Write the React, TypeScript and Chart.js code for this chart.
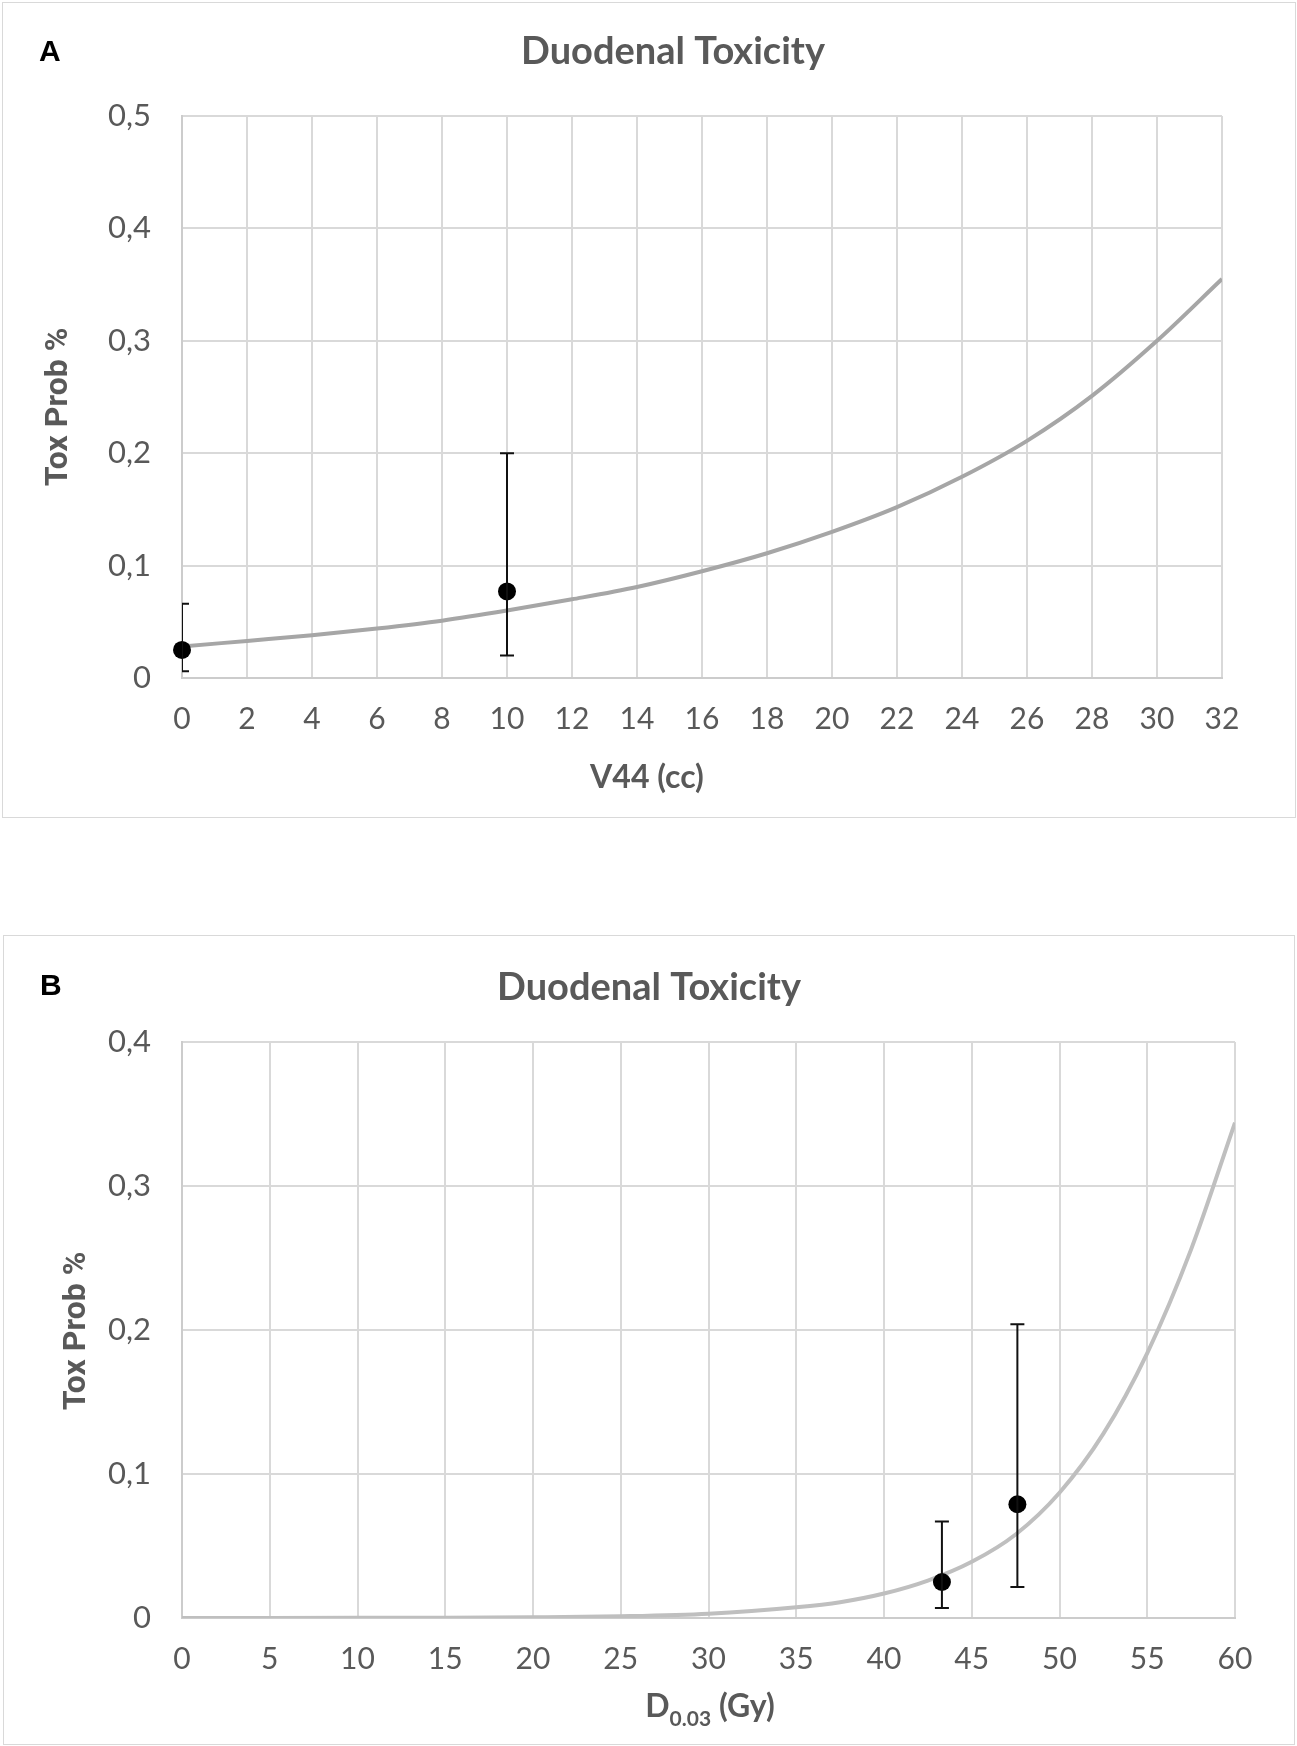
import React, { useEffect, useRef } from "react";
import { Chart, registerables } from "chart.js";

Chart.register(...registerables);

// panel A: V44 (cc)
const v44Curve = [0, 2, 4, 6, 8, 10, 12, 14, 16, 18, 20, 22, 24, 26, 28, 30, 32];
const v44CurveProb = [0.028, 0.033, 0.038, 0.044, 0.051, 0.06, 0.07, 0.081, 0.095, 0.111, 0.13, 0.152, 0.179, 0.211, 0.251, 0.3, 0.355];
const v44Obs = [0, 10];
const v44ObsProb = [0.025, 0.077];
const v44ObsLow = [0.006, 0.02];
const v44ObsHigh = [0.066, 0.2];
const v44YTicks = [0, 0.1, 0.2, 0.3, 0.4, 0.5];

// panel B: D0.03 (Gy)
const doseCurve = [0, 5, 10, 15, 20, 25, 30, 35, 37.5, 40, 42.5, 45, 47.5, 50, 52.5, 55, 57.5, 60];
const doseCurveProb = [0.00002, 0.00004, 0.0001, 0.0002, 0.0005, 0.0012, 0.003, 0.0075, 0.011, 0.017, 0.026, 0.039, 0.058, 0.087, 0.128, 0.184, 0.256, 0.344];
const doseObs = [43.3, 47.6];
const doseObsProb = [0.025, 0.079];
const doseObsLow = [0.007, 0.0215];
const doseObsHigh = [0.067, 0.204];
const doseYTicks = [0, 0.1, 0.2, 0.3, 0.4];

const GREY_TEXT = "#595959";
const GRID = "#d9d9d9";

const fmtProb = (v: number) => (v === 0 ? "0" : Number(v).toFixed(1).replace(".", ","));

type PanelProps = {
  box: { left: number; top: number; width: number; height: number };
  canvasW: number;
  canvasH: number;
  plot: { yWidth: number; xHeight: number; top: number; right: number };
  letter: string;
  letterPos: [number, number];
  title: string;
  titlePos: [number, number];
  xTitle: string;
  xSub?: string;
  xTitleRest?: string;
  xTitlePos: [number, number];
  yTitlePos: [number, number];
  xMax: number;
  xStep: number;
  yMax: number;
  yTicks: number[];
  curveX: number[];
  curveY: number[];
  obsX: number[];
  obsY: number[];
  obsLow: number[];
  obsHigh: number[];
  curveColor: string;
};

const ToxPanel = (p: PanelProps) => {
  const canvasRef = useRef<HTMLCanvasElement>(null);

  useEffect(() => {
    const ctx = canvasRef.current?.getContext("2d");
    if (!ctx) return;

    const errorBars = {
      id: "errorBars",
      afterDatasetsDraw(chart: any) {
        const { x, y } = chart.scales;
        const area = chart.chartArea;
        const c = chart.ctx;
        c.save();
        c.beginPath();
        c.rect(area.left, area.top - 10, area.right - area.left, area.bottom - area.top + 20);
        c.clip();
        c.strokeStyle = "#111";
        c.lineWidth = 2;
        p.obsX.forEach((vx, i) => {
          const px = x.getPixelForValue(vx);
          const top = y.getPixelForValue(p.obsHigh[i]);
          const bot = y.getPixelForValue(p.obsLow[i]);
          c.beginPath();
          c.moveTo(px, top);
          c.lineTo(px, bot);
          c.moveTo(px - 7, top);
          c.lineTo(px + 7, top);
          c.moveTo(px - 7, bot);
          c.lineTo(px + 7, bot);
          c.stroke();
        });
        c.restore();
      },
    };

    const labels = {
      id: "panelLabels",
      afterDraw(chart: any) {
        const c = chart.ctx;
        c.save();
        c.textBaseline = "alphabetic";
        // panel letter
        c.fillStyle = "#000";
        c.font = "bold 30px 'Liberation Sans', Arial, sans-serif";
        c.textAlign = "left";
        c.fillText(p.letter, p.letterPos[0], p.letterPos[1]);
        // title
        c.fillStyle = GREY_TEXT;
        c.font = "bold 38px Lato, sans-serif";
        c.textAlign = "center";
        c.fillText(p.title, p.titlePos[0], p.titlePos[1]);
        // x title
        c.font = "bold 32px Lato, sans-serif";
        if (p.xSub) {
          const main = p.xTitle;
          const rest = p.xTitleRest || "";
          const w1 = c.measureText(main).width;
          const w3 = c.measureText(rest).width;
          c.font = "bold 21px Lato, sans-serif";
          const w2 = c.measureText(p.xSub).width;
          const start = p.xTitlePos[0] - (w1 + w2 + w3) / 2;
          c.textAlign = "left";
          c.font = "bold 32px Lato, sans-serif";
          c.fillText(main, start, p.xTitlePos[1]);
          c.font = "bold 21px Lato, sans-serif";
          c.fillText(p.xSub, start + w1, p.xTitlePos[1] + 9);
          c.font = "bold 32px Lato, sans-serif";
          c.fillText(rest, start + w1 + w2, p.xTitlePos[1]);
        } else {
          c.fillText(p.xTitle, p.xTitlePos[0], p.xTitlePos[1]);
        }
        // y title
        c.translate(p.yTitlePos[0], p.yTitlePos[1]);
        c.rotate(-Math.PI / 2);
        c.textAlign = "center";
        c.font = "bold 32px Roboto, sans-serif";
        c.fillText("Tox Prob %", 0, 0);
        c.restore();
      },
    };

    const chart = new Chart(ctx, {
      type: "scatter",
      data: {
        datasets: [
          {
            label: "observed",
            data: p.obsX.map((x, i) => ({ x, y: p.obsY[i] })),
            backgroundColor: "#000",
            borderWidth: 0,
            pointRadius: 9,
            clip: false,
            order: 0,
          } as any,
          {
            label: "model",
            data: p.curveX.map((x, i) => ({ x, y: p.curveY[i] })),
            showLine: true,
            borderColor: p.curveColor,
            borderWidth: 4,
            pointRadius: 0,
            cubicInterpolationMode: "monotone",
            order: 1,
          } as any,
        ],
      },
      options: {
        animation: false,
        responsive: false,
        events: [],
        layout: { padding: { left: 0, top: p.plot.top, right: p.plot.right, bottom: 0 } },
        plugins: { legend: { display: false }, tooltip: { enabled: false }, title: { display: false } },
        scales: {
          x: {
            type: "linear",
            min: 0,
            max: p.xMax,
            afterFit: (s: any) => {
              s.height = p.plot.xHeight;
            },
            grid: { color: GRID, lineWidth: 2, drawTicks: false },
            border: { color: "#cccccc", width: 2 },
            ticks: {
              stepSize: p.xStep,
              padding: 23,
              color: GREY_TEXT,
              font: { family: "Lato", size: 30 },
            },
          },
          y: {
            type: "linear",
            min: 0,
            max: p.yMax,
            afterFit: (s: any) => {
              s.width = p.plot.yWidth;
            },
            afterBuildTicks: (s: any) => {
              s.ticks = p.yTicks.map((v) => ({ value: v }));
            },
            grid: { color: GRID, lineWidth: 2, drawTicks: false },
            border: { color: "#cccccc", width: 2 },
            ticks: {
              padding: 31,
              color: GREY_TEXT,
              font: { family: "Lato", size: 31 },
              callback: (v: any) => fmtProb(Number(v)),
            },
          },
        },
      },
      plugins: [errorBars, labels],
    } as any);

    return () => {
      chart.destroy();
    };
  }, []);

  return (
    <div
      style={{
        position: "absolute",
        left: p.box.left,
        top: p.box.top,
        width: p.box.width,
        height: p.box.height,
        border: "1px solid #d9d9d9",
        boxSizing: "border-box",
        background: "#fff",
      }}
    >
      <canvas
        ref={canvasRef}
        width={p.canvasW}
        height={p.canvasH}
        style={{ position: "absolute", left: 0, top: 0 }}
      />
    </div>
  );
};

export default function App() {
  return (
    <div style={{ position: "absolute", left: 0, top: 0, width: 1297, height: 1746, background: "#fff" }}>
      <ToxPanel
        box={{ left: 2, top: 2, width: 1294, height: 816 }}
        canvasW={1292}
        canvasH={814}
        plot={{ yWidth: 179, xHeight: 139, top: 113, right: 73 }}
        letter="A"
        letterPos={[36, 58]}
        title="Duodenal Toxicity"
        titlePos={[670, 61]}
        xTitle="V44 (cc)"
        xTitlePos={[644, 785]}
        yTitlePos={[64, 404]}
        xMax={32}
        xStep={2}
        yMax={0.5}
        yTicks={v44YTicks}
        curveX={v44Curve}
        curveY={v44CurveProb}
        obsX={v44Obs}
        obsY={v44ObsProb}
        obsLow={v44ObsLow}
        obsHigh={v44ObsHigh}
        curveColor="#a6a6a6"
      />
      <ToxPanel
        box={{ left: 3, top: 935, width: 1292, height: 810 }}
        canvasW={1290}
        canvasH={808}
        plot={{ yWidth: 178, xHeight: 126, top: 106, right: 59 }}
        letter="B"
        letterPos={[36, 59]}
        title="Duodenal Toxicity"
        titlePos={[645, 64]}
        xTitle="D"
        xSub="0.03"
        xTitleRest=" (Gy)"
        xTitlePos={[706, 781]}
        yTitlePos={[81, 395]}
        xMax={60}
        xStep={5}
        yMax={0.4}
        yTicks={doseYTicks}
        curveX={doseCurve}
        curveY={doseCurveProb}
        obsX={doseObs}
        obsY={doseObsProb}
        obsLow={doseObsLow}
        obsHigh={doseObsHigh}
        curveColor="#bfbfbf"
      />
    </div>
  );
}
